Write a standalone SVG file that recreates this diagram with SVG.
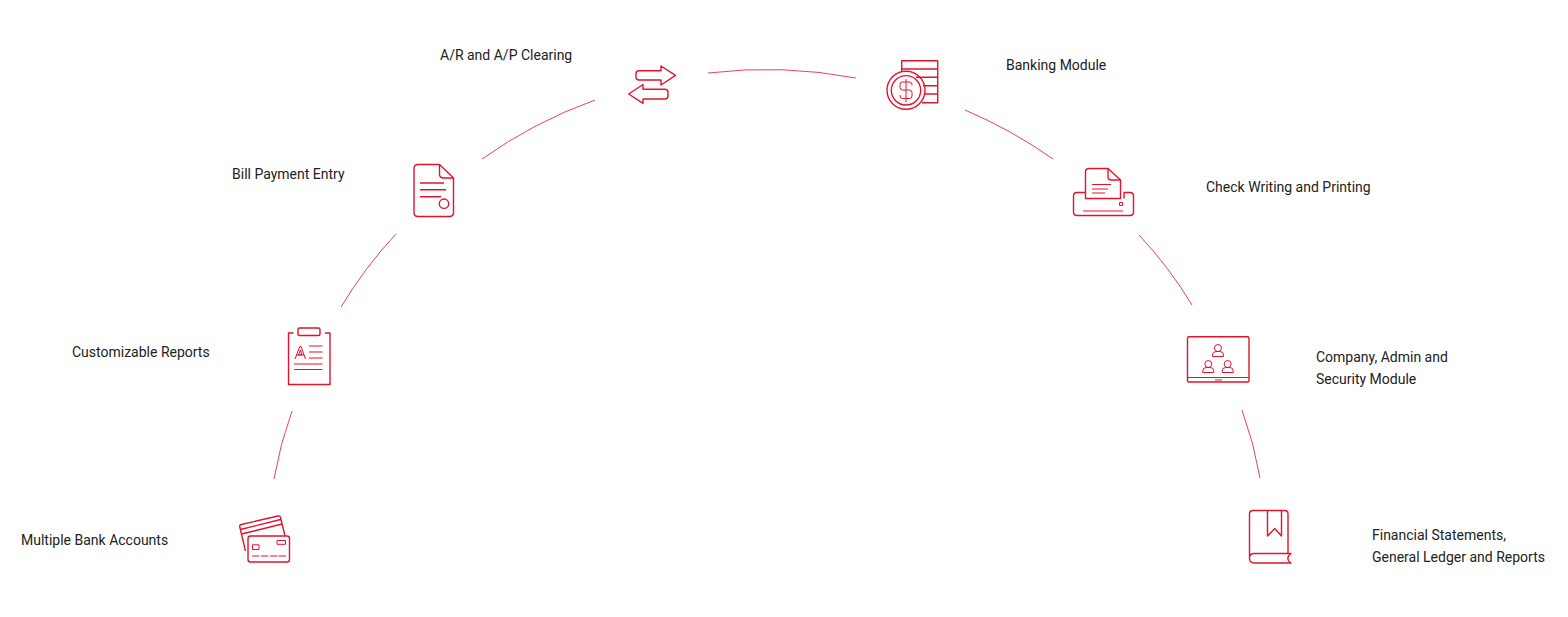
<svg xmlns="http://www.w3.org/2000/svg" width="1568" height="617" viewBox="0 0 1568 617">
<style>
text{font-family:Roboto,"Liberation Sans",sans-serif;font-size:14px;fill:#222}
.i{fill:none;stroke:#e2132d;stroke-width:1.4;stroke-linejoin:round}
.t{fill:none;stroke:#e2132d;stroke-width:1;stroke-linejoin:round}
.c{fill:none;stroke:#e2132d;stroke-width:.8}
</style>
<rect width="1568" height="617" fill="#fff"/>
<g id="connectors">
<path class="c" d="M708 73Q782 64 856 78"/>
<path class="c" d="M595 100Q534 122 482 159"/>
<path class="c" d="M965 110Q1012 130 1053 159"/>
<path class="c" d="M396 234Q365 267 341 307"/>
<path class="c" d="M1139 235Q1169 267 1192 305"/>
<path class="c" d="M292 411Q280 444 274 479"/>
<path class="c" d="M1242 410Q1254 443 1260 478"/>
</g>
<g id="node-ar-ap">
<text x="440" y="60">A/R and A/P Clearing</text>
<path class="i" d="M661 70.700V66L675.500 75.300L661 85V80H639Q636 80 636 77V73.700Q636 70.700 639 70.700Z"/>
<path class="i" d="M643 89.300V84.500L628.700 94L643 103.300V99H665Q668 99 668 96V92.300Q668 89.300 665 89.300Z"/>
</g>
<g id="node-banking">
<text x="1006" y="70">Banking Module</text>
<path class="i" d="M901.700 72V60.700H937.700V102.700H922M901.700 69H937.700M916 77.300H937.700M923 85.700H937.700M925 94H937.700"/>
<circle class="i" cx="906" cy="90.300" r="19"/>
<circle class="i" cx="906" cy="90.300" r="14.700"/>
<path class="t" d="M912 85.500V84.500Q912 82 909.500 82H902.500Q900 82 900 84.500V87.500Q900 90 902.500 90H909.500Q912 90 912 92.500V96Q912 98.500 909.500 98.500H902.500Q900 98.500 900 96V95M906 79V102"/>
</g>
<g id="node-bill">
<text x="232" y="179">Bill Payment Entry</text>
<path class="i" d="M439.500 164.500H418Q414 164.500 414 168.500V212.500Q414 216.500 418 216.500H449.500Q453.500 216.500 453.500 212.500V178Z"/>
<path class="i" d="M439.500 164.500V174Q439.500 178 443.500 178H453.500"/>
<path class="i" d="M420 183H444M420 189.700H446M420 196.700H441"/>
<circle class="i" cx="444" cy="203.700" r="4.700"/>
</g>
<g id="node-check">
<text x="1206" y="192">Check Writing and Printing</text>
<path class="i" d="M1085.500 198.500V172Q1085.500 168.500 1089 168.500H1108L1120.500 180V198.500Z"/>
<path class="i" d="M1108 168.500V176.500Q1108 180 1111.500 180H1120.500"/>
<path class="i" d="M1085.500 192.500H1077Q1073.500 192.500 1073.500 196V212Q1073.500 215.500 1077 215.500H1130Q1133.500 215.500 1133.500 212V196Q1133.500 192.500 1130 192.500H1124V198.500"/>
<path class="t" d="M1092 184.500H1111M1092 189H1108M1092 193H1105M1083 211H1123"/>
<rect class="t" x="1119.500" y="202.500" width="3" height="3"/>
</g>
<g id="node-reports">
<text x="72" y="357">Customizable Reports</text>
<rect class="i" x="298" y="328" width="22" height="7.500" rx="1.500"/>
<path class="i" d="M293.500 333H288.500V384.500H330V333H325"/>
<path class="t" d="M295 359L299.800 346.500H301L305.500 359M296.500 355H304M309 346H322.500M309 352H322.500M309 358H322.500M294 364H322.500M294 369.500H322.500"/>
<path class="t" d="M300.400 350L302 355H298.500Z"/>
</g>
<g id="node-company">
<text x="1316" y="362">Company, Admin and</text>
<text x="1316" y="384">Security Module</text>
<rect class="i" x="1187.500" y="336.800" width="61.500" height="45.200" rx="1.500"/>
<path class="t" d="M1187.500 377.500H1249M1215 380H1222"/>
<circle class="t" cx="1218" cy="348" r="3.500"/>
<path class="t" d="M1212.500 356.500V355Q1212.500 351.500 1216 351.500H1220Q1223.500 351.500 1223.500 355V356.500Z"/>
<circle class="t" cx="1208.300" cy="364" r="3.500"/>
<path class="t" d="M1202.800 372.500V371Q1202.800 367.500 1206.300 367.500H1210.300Q1213.800 367.500 1213.800 371V372.500Z"/>
<circle class="t" cx="1227.700" cy="364" r="3.500"/>
<path class="t" d="M1222.200 372.500V371Q1222.200 367.500 1225.700 367.500H1229.700Q1233.200 367.500 1233.200 371V372.500Z"/>
</g>
<g id="node-accounts">
<text x="21" y="545">Multiple Bank Accounts</text>
<path class="i" d="M245.500 551L239.800 527Q239.300 525 241.300 524.500L278 516Q280 515.500 280.500 517.500L285 536M240.500 529.500L280.500 519.500M241.500 534L282 524"/>
<rect class="i" x="248" y="536" width="41.500" height="26" rx="2.500"/>
<rect class="t" x="252.500" y="544.800" width="6.500" height="4.700"/>
<rect class="t" x="277" y="540.500" width="8.500" height="3.800"/>
<path class="t" d="M252 556H259.500M261 556H268.500M270 556H277.500M278.500 556H286"/>
</g>
<g id="node-statements">
<text x="1372" y="540">Financial Statements,</text>
<text x="1372" y="562">General Ledger and Reports</text>
<path class="i" d="M1249.500 558V514Q1249.500 510.500 1253 510.500H1284.500Q1288 510.500 1288 514V553.500H1254Q1249.500 553.500 1249.500 558Q1249.500 563 1254 563H1291Q1284.500 558.500 1291 553.500H1288"/>
<path class="i" d="M1267.500 510.500V536L1274.700 528.500L1281.500 536V510.500"/>
</g>
</svg>
